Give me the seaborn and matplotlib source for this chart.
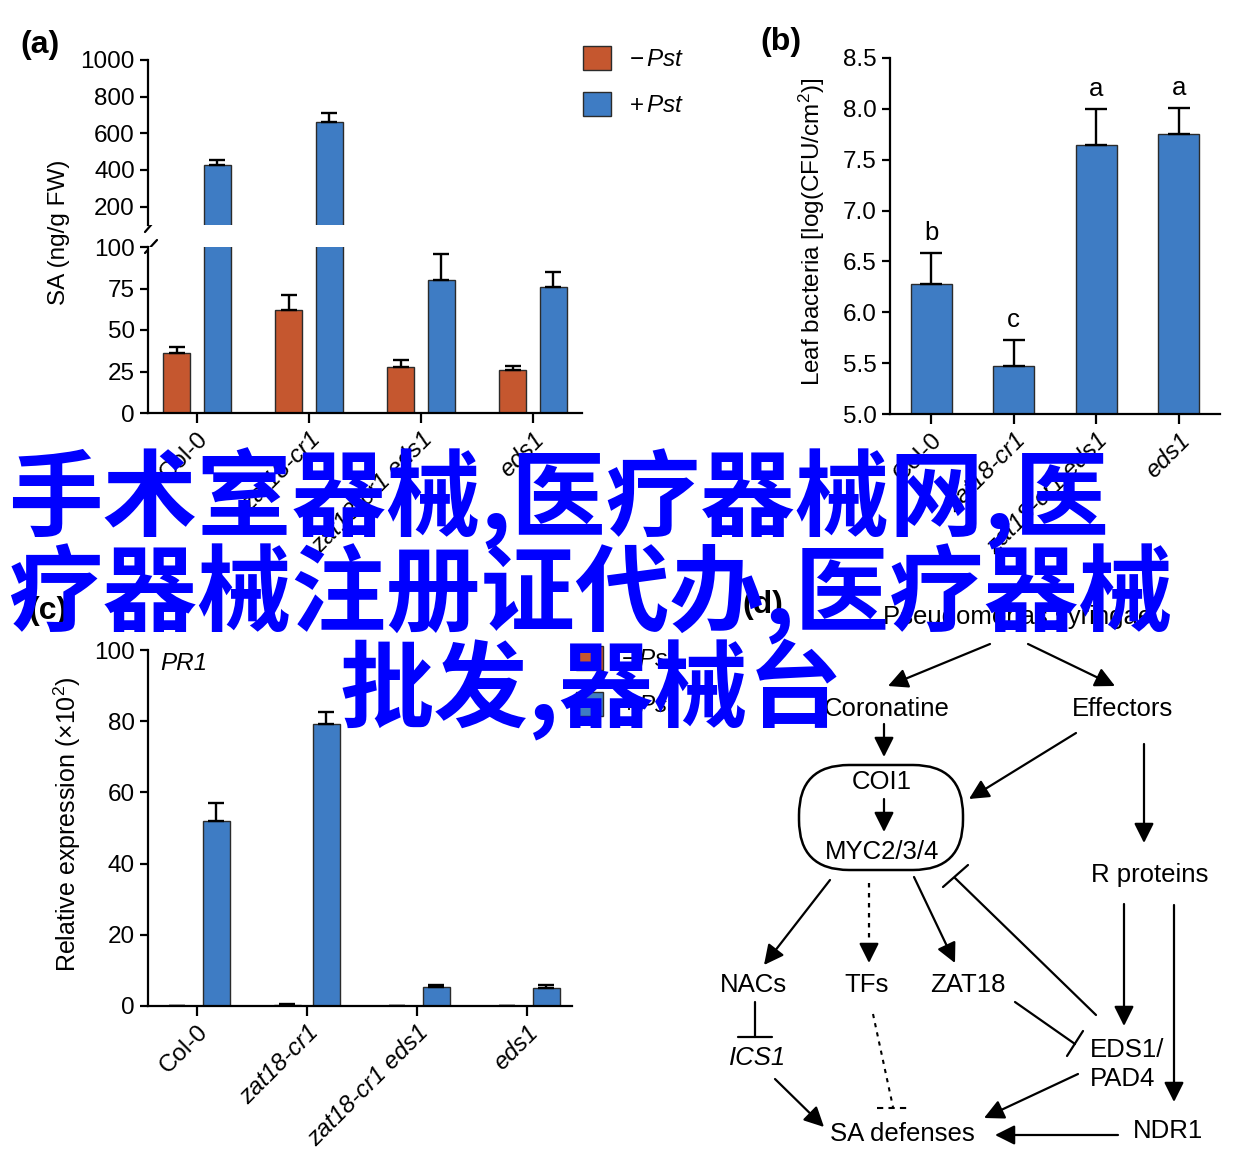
import numpy as np
import pandas as pd
import seaborn as sns
import matplotlib.pyplot as plt
from matplotlib.patches import FancyBboxPatch

# data
genotypes = ["Col-0", "zat18-cr1", "zat18-cr1 eds1", "eds1"]
treatments = ["-Pst", "+Pst"]
legend_labels = [r"$-\,\mathit{Pst}$", r"$+\,\mathit{Pst}$"]

# (a) SA content (ng/g FW)
sa_mock = [36, 62, 28, 26]
sa_mock_err = [4, 9, 4, 2.5]
sa_pst = [430, 660, 80, 76]
sa_pst_err = [25, 50, 16, 9]

# (b) leaf bacteria
bact = [6.28, 5.47, 7.64, 7.75]
bact_err = [0.30, 0.26, 0.36, 0.26]
bact_letters = ["b", "c", "a", "a"]

# (c) PR1 relative expression (x10^2)
pr1_mock = [0.0, 0.3, 0.0, 0.0]
pr1_mock_err = [0.0, 0.2, 0.0, 0.0]
pr1_pst = [52, 79.3, 5.3, 5.0]
pr1_pst_err = [5, 3.2, 0.7, 0.8]

orange = "#C5572F"
blue = "#3E7CC4"
edge = "#2b2b2b"

W, H = 1245, 1166
sns.set_theme(style="ticks")
plt.rcParams["font.family"] = ["Liberation Sans", "DejaVu Sans"]
plt.rcParams["mathtext.fontset"] = "custom"
plt.rcParams["mathtext.rm"] = "Liberation Sans"
plt.rcParams["mathtext.it"] = "Liberation Sans:italic"
plt.rcParams["text.color"] = "black"
plt.rcParams["axes.labelcolor"] = "black"
plt.rcParams["axes.linewidth"] = 1.6
plt.rcParams["xtick.major.width"] = 1.6
plt.rcParams["ytick.major.width"] = 1.6
plt.rcParams["xtick.major.size"] = 7
plt.rcParams["ytick.major.size"] = 6
plt.rcParams["xtick.labelsize"] = 17.5
plt.rcParams["ytick.labelsize"] = 17.5
plt.rcParams["axes.edgecolor"] = "black"
plt.rcParams["xtick.color"] = "black"
plt.rcParams["ytick.color"] = "black"

fig = plt.figure(figsize=(W / 100, H / 100), dpi=100)


def px_axes(x0, y0, x1, y1, **kw):
    return fig.add_axes([x0 / W, 1 - y1 / H, (x1 - x0) / W, (y1 - y0) / H], **kw)


def two_group_df(mock, pst):
    return pd.DataFrame({
        "genotype": genotypes * 2,
        "treatment": [treatments[0]] * 4 + [treatments[1]] * 4,
        "value": list(mock) + list(pst),
    })


def add_errors(ax, errs_list, capsize):
    lo, hi = ax.get_ylim()
    for cont, errs in zip(ax.containers, errs_list):
        pts = []
        for p, e in zip(cont, errs):
            top = p.get_height()
            if lo <= top + e <= hi:
                pts.append((p.get_x() + p.get_width() / 2, top, e))
        if not pts:
            continue
        xs, ys, es = zip(*pts)
        ax.errorbar(xs, ys, yerr=[np.zeros(len(es)), es], fmt="none",
                    ecolor="black", elinewidth=1.7, capsize=capsize, capthick=1.7)


def italic_xticks(ax):
    ax.set_xticks(range(len(genotypes)))
    ax.set_xticklabels(genotypes, rotation=45, ha="right", rotation_mode="anchor")
    for lab in ax.get_xticklabels():
        if lab.get_text() != "Col-0":
            lab.set_style("italic")


# diagram layer (panel d) in pixel coordinates
axd = px_axes(0, 0, W, H, zorder=-5)
axd.set_xlim(0, W)
axd.set_ylim(H, 0)
axd.axis("off")

# ---------------- panel (a): broken axis ----------------
df_a = two_group_df(sa_mock, sa_pst)
ax_top = px_axes(148, 60, 582, 225)
ax_low = px_axes(148, 247, 582, 413)
for ax, lim in ((ax_top, (100, 1000)), (ax_low, (0, 100))):
    sns.barplot(data=df_a, x="genotype", y="value", hue="treatment", order=genotypes,
                hue_order=treatments, palette=[orange, blue], saturation=1,
                width=0.73, gap=0.34, edgecolor=edge, linewidth=1, errorbar=None,
                legend=False, ax=ax)
    ax.set_ylim(*lim)
    add_errors(ax, [sa_mock_err, sa_pst_err], 5.5)
    ax.set_xlim(-0.4375, 3.4375)
    ax.set_xlabel("")
    ax.set_ylabel("")
    sns.despine(ax=ax)

ax_top.set_yticks([200, 400, 600, 800, 1000])
ax_top.spines["bottom"].set_visible(False)
ax_top.tick_params(axis="x", bottom=False, labelbottom=False)
ax_low.set_yticks([0, 25, 50, 75, 100])
italic_xticks(ax_low)
# break marks
axd.plot([145, 157], [232, 218], color="black", lw=1.6)
axd.plot([145, 157], [253, 240], color="black", lw=1.6)

ax_top.legend(handles=[c[0] for c in ax_top.containers], labels=legend_labels,
              loc="upper left", bbox_to_anchor=(583 / W, 1 - 46 / H),
              bbox_transform=fig.transFigure, frameon=False, fontsize=17.5,
              handlelength=1.15, handleheight=1.15, handletextpad=0.75,
              labelspacing=0.85, borderpad=0, borderaxespad=0)
fig.text(59 / W, 1 - 232 / H, "SA (ng/g FW)", rotation=90, ha="center", va="center", fontsize=17.5)

# ---------------- panel (b) ----------------
ax_b = px_axes(890, 58, 1220, 414)
df_b = pd.DataFrame({"genotype": genotypes, "value": bact})
sns.barplot(data=df_b, x="genotype", y="value", order=genotypes, color=blue,
            saturation=1, width=0.5, edgecolor=edge, linewidth=1, errorbar=None, ax=ax_b)
ax_b.set_ylim(5.0, 8.5)
ax_b.set_xlim(-0.5, 3.5)
ax_b.set_yticks(np.arange(5.0, 8.51, 0.5))
ax_b.set_yticklabels([f"{v:.1f}" for v in np.arange(5.0, 8.51, 0.5)])
ax_b.set_xlabel("")
ax_b.set_ylabel("")
italic_xticks(ax_b)
sns.despine(ax=ax_b)
for p, err, letter in zip(ax_b.patches, bact_err, bact_letters):
    x = p.get_x() + p.get_width() / 2
    top = p.get_y() + p.get_height()
    ax_b.errorbar([x], [top], yerr=[[0], [err]], fmt="none", ecolor="black",
                  elinewidth=1.7, capsize=8, capthick=1.7)
    ax_b.text(x, top + err + 0.13, letter, ha="center", va="baseline", fontsize=18.5)
fig.text(812 / W, 1 - 232 / H, "Leaf bacteria [log(CFU/cm$^2$)]", rotation=90,
         ha="center", va="center", fontsize=17.5)

# ---------------- panel (c) ----------------
ax_c = px_axes(148, 650, 572, 1006)
df_c = two_group_df(pr1_mock, pr1_pst)
sns.barplot(data=df_c, x="genotype", y="value", hue="treatment", order=genotypes,
            hue_order=treatments, palette=[orange, blue], saturation=1, width=0.71,
            gap=0.31, edgecolor=edge, linewidth=1, errorbar=None, legend=False, ax=ax_c)
ax_c.set_ylim(0, 100)
add_errors(ax_c, [pr1_mock_err, pr1_pst_err], 5.5)
ax_c.set_xlim(-0.445, 3.41)
ax_c.set_yticks([0, 20, 40, 60, 80, 100])
ax_c.set_xlabel("")
ax_c.set_ylabel("")
italic_xticks(ax_c)
sns.despine(ax=ax_c)
ax_c.text(-0.33, 99.5, "PR1", style="italic", ha="left", va="top", fontsize=17.5)
ax_c.legend(handles=[c[0] for c in ax_c.containers], labels=legend_labels,
            loc="upper left", bbox_to_anchor=(576 / W, 1 - 646 / H),
            bbox_transform=fig.transFigure, frameon=False, fontsize=17.5,
            handlelength=1.1, handleheight=1.15, handletextpad=0.75,
            labelspacing=0.85, borderpad=0, borderaxespad=0)
fig.text(67 / W, 1 - 824 / H, "Relative expression (×10$^2$)", rotation=90,
         ha="center", va="center", fontsize=18)

# ---------------- panel (d): pathway diagram ----------------
fs = 18.5


def label(x, y, s, **kw):
    axd.text(x, y, s, ha=kw.pop("ha", "center"), va="center", fontsize=fs, **kw)


def arrow(x0, y0, x1, y1):
    axd.annotate("", xy=(x1, y1), xytext=(x0, y0),
                 arrowprops=dict(arrowstyle="-|>,head_length=0.6,head_width=0.3",
                                 mutation_scale=20, lw=1.6, color="black",
                                 shrinkA=0, shrinkB=0))


def dotted_arrow(x0, y0, x1, y1):
    axd.plot([x0, x1], [y0 + 2, y1 - 14], color="black", lw=1.6, ls=(0, (2, 2.5)))
    arrow(x1, y1 - 16, x1, y1)


label(1018, 617, "Pseudomonas syringae")
arrow(990, 644, 888, 686)
arrow(1028, 644, 1115, 686)
label(887, 709, "Coronatine")
label(1122, 709, "Effectors")
arrow(884, 724, 884, 757)
axd.add_patch(FancyBboxPatch((799, 765), 164, 105, boxstyle="round,pad=0,rounding_size=50",
                             fill=False, lw=1.8, ec="black"))
label(882, 782, "COI1")
arrow(884, 799, 884, 832)
label(882, 852, "MYC2/3/4")
arrow(1076, 733, 969, 799)
arrow(1144, 744, 1144, 843)
label(1150, 875, "R proteins")
arrow(830, 880, 764, 965)
dotted_arrow(869, 881, 869, 963)
arrow(914, 877, 955, 963)
label(753, 985, "NACs")
label(867, 985, "TFs")
label(968, 985, "ZAT18")
# EDS1 -| MYC box
axd.plot([1096, 955], [1015, 878], color="black", lw=1.6)
axd.plot([943, 968], [887, 865], color="black", lw=1.6)
arrow(1124, 904, 1124, 1026)
arrow(1174, 905, 1174, 1102)
# ZAT18 -| EDS1
axd.plot([1015, 1075], [1002, 1044], color="black", lw=1.6)
axd.plot([1067, 1083], [1056, 1031], color="black", lw=1.6)
label(1090, 1050, "EDS1/", ha="left")
label(1090, 1079, "PAD4", ha="left")
# NACs -| ICS1
axd.plot([755, 755], [1002, 1037], color="black", lw=1.6)
axd.plot([738, 772], [1037, 1037], color="black", lw=1.6)
label(758, 1058, "ICS1", style="italic")
arrow(775, 1079, 824, 1127)
# TFs dotted -| SA defenses
axd.plot([873, 893], [1014, 1107], color="black", lw=1.5, ls=(0, (2, 2.5)))
axd.plot([877, 911], [1108, 1108], color="black", lw=1.5, ls=(0, (3, 2.5)))
arrow(1078, 1074, 984, 1118)
label(902, 1134, "SA defenses")
arrow(1118, 1135, 995, 1135)
label(1168, 1131, "NDR1")

# panel labels
for x, y, s in [(20, 45, "(a)"), (760, 42, "(b)"), (28, 611, "(c)"), (742, 605, "(d)")]:
    fig.text(x / W, 1 - y / H, s, ha="left", va="center", fontsize=23, fontweight="bold")

# overlaid banner text
cjk = ["Noto Sans CJK SC", "DejaVu Sans"]
for x, y, s in [(8, 499, "手术室器械,医疗器械网,医"),
                (8, 594, "疗器械注册证代办,医疗器械"),
                (340, 689, "批发,器械台")]:
    fig.text(x / W, 1 - y / H, s, ha="left", va="center", fontsize=68,
             fontweight="bold", color="#0000FF", family=cjk, zorder=20)

fig.savefig("out.png", dpi=100)
